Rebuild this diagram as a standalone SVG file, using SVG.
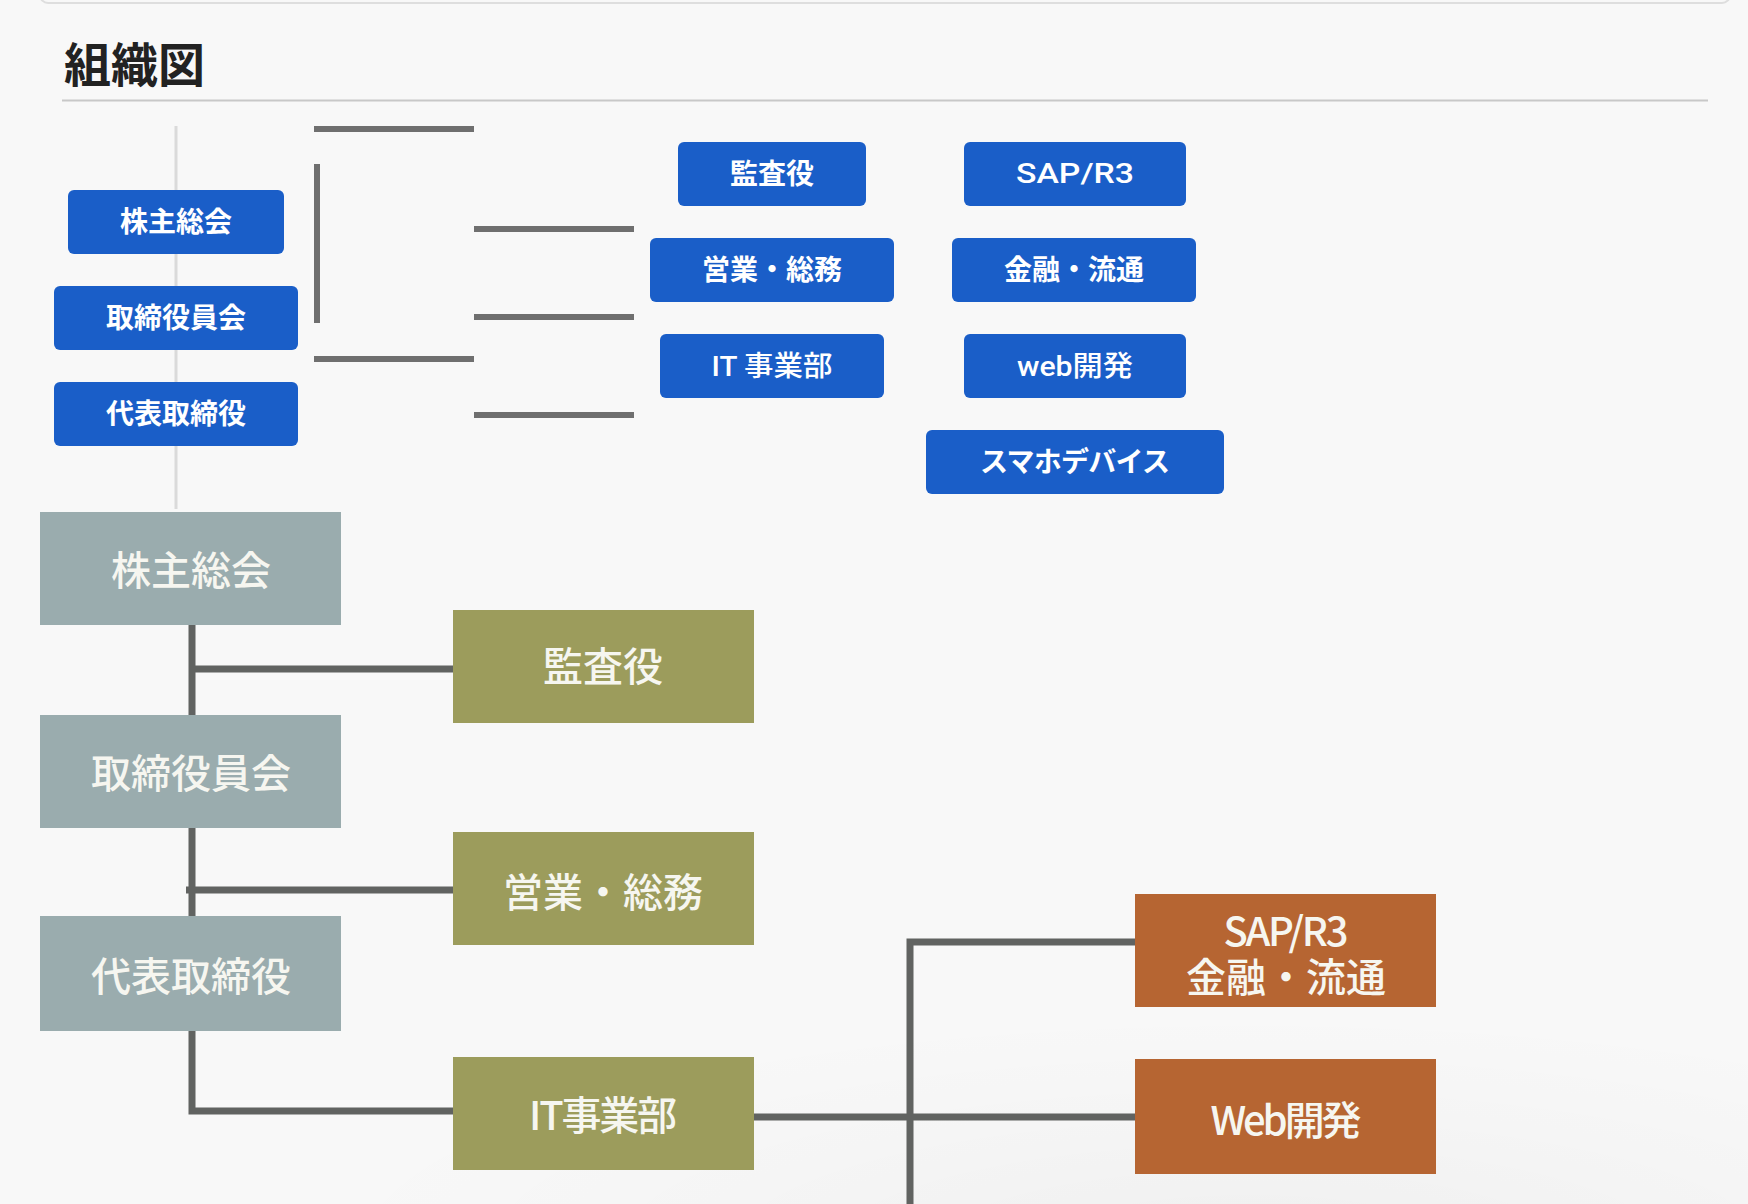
<svg xmlns="http://www.w3.org/2000/svg" width="1748" height="1204" viewBox="0 0 1748 1204">
<defs>
<style>
.bg{fill:#f8f8f8}
.blue rect{fill:#1a5ec8}
.blue text{fill:#ffffff;font-family:"Noto Sans CJK JP","Noto Sans",sans-serif;font-size:28px;font-weight:700;text-anchor:middle}
.blue text.lat{font-family:Roboto,"Noto Sans CJK JP",sans-serif;font-weight:500}
.gray rect{fill:#9aacae}
.olive rect{fill:#9c9c5c}
.orange rect{fill:#b66532}
.big text{fill:#f6f6f0;font-family:"Noto Sans CJK JP","Noto Sans",sans-serif;font-size:40px;font-weight:500;text-anchor:middle}
.thin{stroke:#6f6f6f;stroke-width:6;fill:none}
.thick{stroke:#616361;stroke-width:7;fill:none;stroke-linejoin:miter}
</style>
<radialGradient id="shade" cx="0" cy="0" r="1" gradientUnits="userSpaceOnUse" gradientTransform="translate(1250 1250) scale(950 240)">
<stop offset="0" stop-color="#000" stop-opacity="0.035"/>
<stop offset="0.6" stop-color="#000" stop-opacity="0.012"/>
<stop offset="1" stop-color="#000" stop-opacity="0"/>
</radialGradient>
</defs>
<rect class="bg" x="0" y="0" width="1748" height="1204"/>
<rect x="0" y="1000" width="1748" height="204" fill="url(#shade)"/>
<rect x="40" y="-30" width="1690" height="33" rx="8" fill="none" stroke="#dedede" stroke-width="2"/>
<g id="title">
<text x="64" y="82" font-family="'Noto Sans CJK JP','Noto Sans',sans-serif" font-size="47" font-weight="700" fill="#222222">組織図</text>
<line x1="62" y1="100.5" x2="1708" y2="100.5" stroke="#c8c8c8" stroke-width="2"/>
</g>
<line id="guide" x1="176" y1="126" x2="176" y2="509" stroke="#dadada" stroke-width="3"/>
<g id="connectors">
<path class="thin" d="M314 129H474M317 164V323M474 229H634M474 317H634M314 359H474M474 415H634"/>
<path class="thick" d="M192 625V715M192 669H453M192 828V916M186 890H453M192 1031V1111H453M754 1117H1135M910 1204V942H1135"/>
</g>
<g id="b-kabunushi" class="blue"><rect x="68" y="190" width="216" height="64" rx="6"/><text x="176" y="232">株主総会</text></g>
<g id="b-torishimari" class="blue"><rect x="54" y="286" width="244" height="64" rx="6"/><text x="176" y="328">取締役員会</text></g>
<g id="b-daihyo" class="blue"><rect x="54" y="382" width="244" height="64" rx="6"/><text x="176" y="424">代表取締役</text></g>
<g id="b-kansa" class="blue"><rect x="678" y="142" width="188" height="64" rx="6"/><text x="772" y="184">監査役</text></g>
<g id="b-eigyo" class="blue"><rect x="650" y="238" width="244" height="64" rx="6"/><text x="772" y="280">営業・総務</text></g>
<g id="b-it" class="blue"><rect x="660" y="334" width="224" height="64" rx="6"/><text class="lat" x="772" y="376" textLength="121" lengthAdjust="spacingAndGlyphs">IT 事業部</text></g>
<g id="b-sap" class="blue"><rect x="964" y="142" width="222" height="64" rx="6"/><text class="lat" x="1075" y="183" font-size="31" textLength="118" lengthAdjust="spacingAndGlyphs">SAP/R3</text></g>
<g id="b-kinyu" class="blue"><rect x="952" y="238" width="244" height="64" rx="6"/><text x="1074" y="280">金融・流通</text></g>
<g id="b-web" class="blue"><rect x="964" y="334" width="222" height="64" rx="6"/><text class="lat" x="1075" y="376" font-size="29" textLength="116" lengthAdjust="spacingAndGlyphs">web開発</text></g>
<g id="b-sumaho" class="blue"><rect x="926" y="430" width="298" height="64" rx="6"/><text x="1075" y="472" textLength="190" lengthAdjust="spacing">スマホデバイス</text></g>
<g id="n-kabunushi" class="big gray"><rect x="40" y="512" width="301" height="113"/><text x="191" y="585">株主総会</text></g>
<g id="n-torishimari" class="big gray"><rect x="40" y="715" width="301" height="113"/><text x="191" y="788">取締役員会</text></g>
<g id="n-daihyo" class="big gray"><rect x="40" y="916" width="301" height="115"/><text x="191" y="991">代表取締役</text></g>
<g id="n-kansa" class="big olive"><rect x="453" y="610" width="301" height="113"/><text x="603" y="681">監査役</text></g>
<g id="n-eigyo" class="big olive"><rect x="453" y="832" width="301" height="113"/><text x="603" y="907">営業・総務</text></g>
<g id="n-it" class="big olive"><rect x="453" y="1057" width="301" height="113"/><text x="603" y="1130" textLength="148" lengthAdjust="spacing">IT事業部</text></g>
<g id="n-sap" class="big orange"><rect x="1135" y="894" width="301" height="113"/><text x="1286" y="946" textLength="125" lengthAdjust="spacing">SAP/R3</text><text x="1286" y="992">金融・流通</text></g>
<g id="n-web" class="big orange"><rect x="1135" y="1059" width="301" height="115"/><text x="1286" y="1135" textLength="151" lengthAdjust="spacing">Web開発</text></g>
</svg>
